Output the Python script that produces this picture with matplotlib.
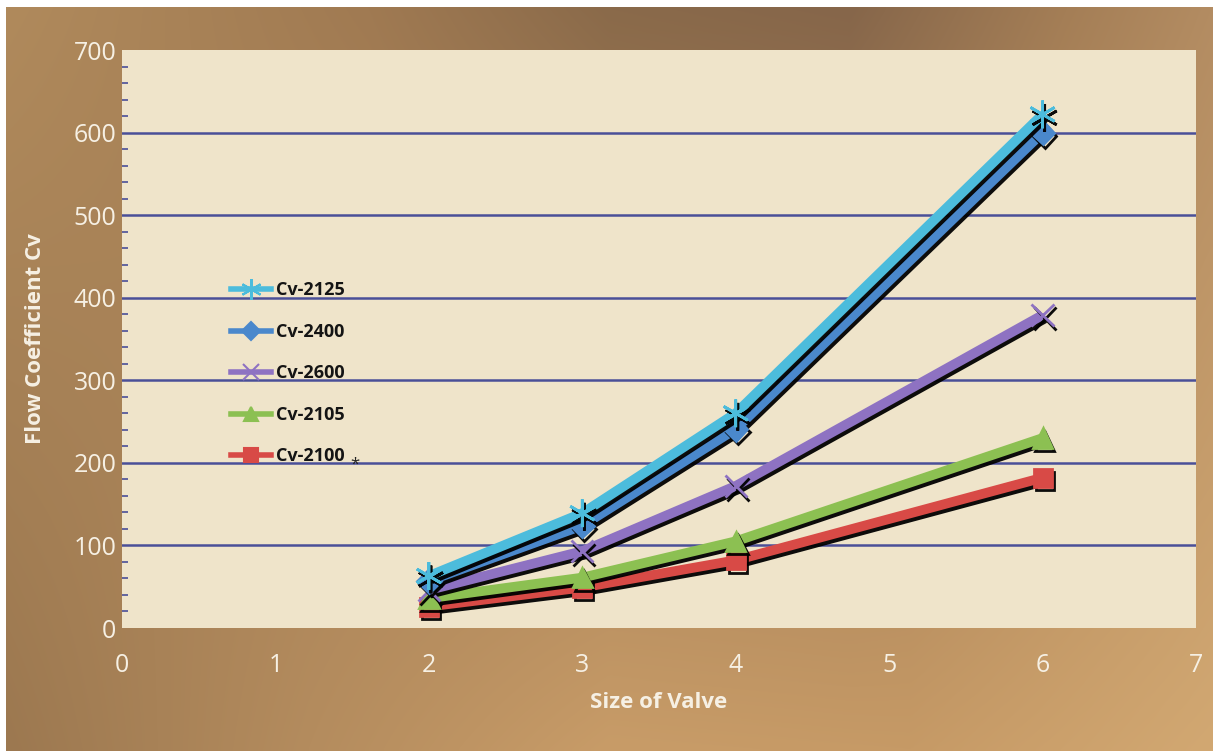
import numpy as np
import matplotlib
matplotlib.use('Agg')
from matplotlib import pyplot as plt
from matplotlib import patheffects as pe
from matplotlib.colors import to_rgb
from matplotlib.lines import Line2D

valve_size = [2, 3, 4, 6]
cv_2125 = [63, 139, 260, 622]
cv_2400 = [57, 124, 241, 600]
cv_2600 = [46, 93, 172, 379]
cv_2105 = [36, 61, 105, 230]
cv_2100 = [26, 49, 82, 182]

series_names = ['Cv-2125', 'Cv-2400', 'Cv-2600', 'Cv-2105', 'Cv-2100']
series_values = [cv_2125, cv_2400, cv_2600, cv_2105, cv_2100]
colors = ['#4cbcdc', '#4a88cc', '#8e72c2', '#8cc052', '#d84a46']
markers = [(6, 2, 0), 'D', 'x', '^', 's']
marker_sizes = [20, 12, 16, 14, 13]

plt.rcParams['font.family'] = ['Open Sans', 'DejaVu Sans']

fig = plt.figure(figsize=(12.13, 7.51), dpi=100)
W, H = 1213, 751

# bronze backdrop
bg = fig.add_axes([6 / W, 0, 1 - 6 / W, 1 - 7 / H])
bg.set_axis_off()
top_stops = [0, 0.3, 0.5, 0.7, 0.88, 1]
top_cols = ['#b08a5c', '#a07a52', '#8a6a4a', '#86664a', '#a47e56', '#b38c62']
bot_stops = [0, 0.25, 0.5, 0.75, 1]
bot_cols = ['#9c7850', '#b48c5e', '#c89c68', '#c69a66', '#d2a872']
nx, ny = 400, 200
xs = np.linspace(0, 1, nx)
top = np.stack([np.interp(xs, top_stops, [to_rgb(c)[k] for c in top_cols]) for k in range(3)], axis=-1)
bot = np.stack([np.interp(xs, bot_stops, [to_rgb(c)[k] for c in bot_cols]) for k in range(3)], axis=-1)
t = np.linspace(0, 1, ny)[:, None, None]
img = top[None, :, :] * (1 - t) + bot[None, :, :] * t
bg.imshow(img, aspect='auto', extent=[0, 1, 0, 1], interpolation='bilinear')
bg.set_xlim(0, 1)
bg.set_ylim(0, 1)

ax = fig.add_axes([122 / W, (H - 628) / H, (1196 - 122) / W, (628 - 50) / H])
ax.set_facecolor('#efe4ca')
for s in ax.spines.values():
    s.set_visible(False)

ax.set_xlim(0, 7)
ax.set_ylim(0, 700)
ax.set_xticks(range(0, 8))
ax.set_yticks(range(0, 800, 100))
ax.set_yticks(range(0, 700, 20), minor=True)
ax.tick_params(axis='x', length=0, pad=18, labelsize=18, labelcolor='#f6f0e4')
ax.tick_params(axis='y', which='major', length=0, pad=4, labelsize=18, labelcolor='#f6f0e4')
ax.tick_params(axis='y', which='minor', direction='in', length=4, width=1.2, color='#4a4f98')
for yv in range(100, 700, 100):
    ax.axhline(yv, color='#4a4f98', lw=1.8, zorder=1)

shadow = [pe.SimpleLineShadow(offset=(1.5, -2.5), shadow_color='black', alpha=0.95), pe.Normal()]
for i in [4, 3, 2, 1, 0]:
    ax.plot(valve_size, series_values[i], color=colors[i], lw=7,
            marker=markers[i], markersize=marker_sizes[i],
            markeredgecolor=colors[i], markeredgewidth=2,
            solid_capstyle='butt', path_effects=shadow, zorder=3 + (4 - i))

handles = [Line2D([], [], color=colors[i], lw=4, marker=markers[i],
                  markersize=marker_sizes[i] * 0.75, markeredgecolor=colors[i],
                  markeredgewidth=1.5) for i in range(5)]
leg = ax.legend(handles, series_names, loc='upper left',
                bbox_to_anchor=(0.095, 0.612), frameon=False, handlelength=2.2,
                labelspacing=1.3, prop={'weight': 'bold', 'size': 13},
                handletextpad=0.3, borderaxespad=0)
for txt in leg.get_texts():
    txt.set_color('#141414')
fig.text(355 / W, 1 - 465 / H, '*', fontsize=12, color='#222222', ha='center', va='center')

ax.set_xlabel('Size of Valve', fontsize=16, fontweight='bold', color='#f6f0e4', labelpad=10)
ax.set_ylabel('Flow Coefficient Cv', fontsize=16, fontweight='bold', color='#f6f0e4', labelpad=20)

fig.savefig('out.png', dpi=100)
